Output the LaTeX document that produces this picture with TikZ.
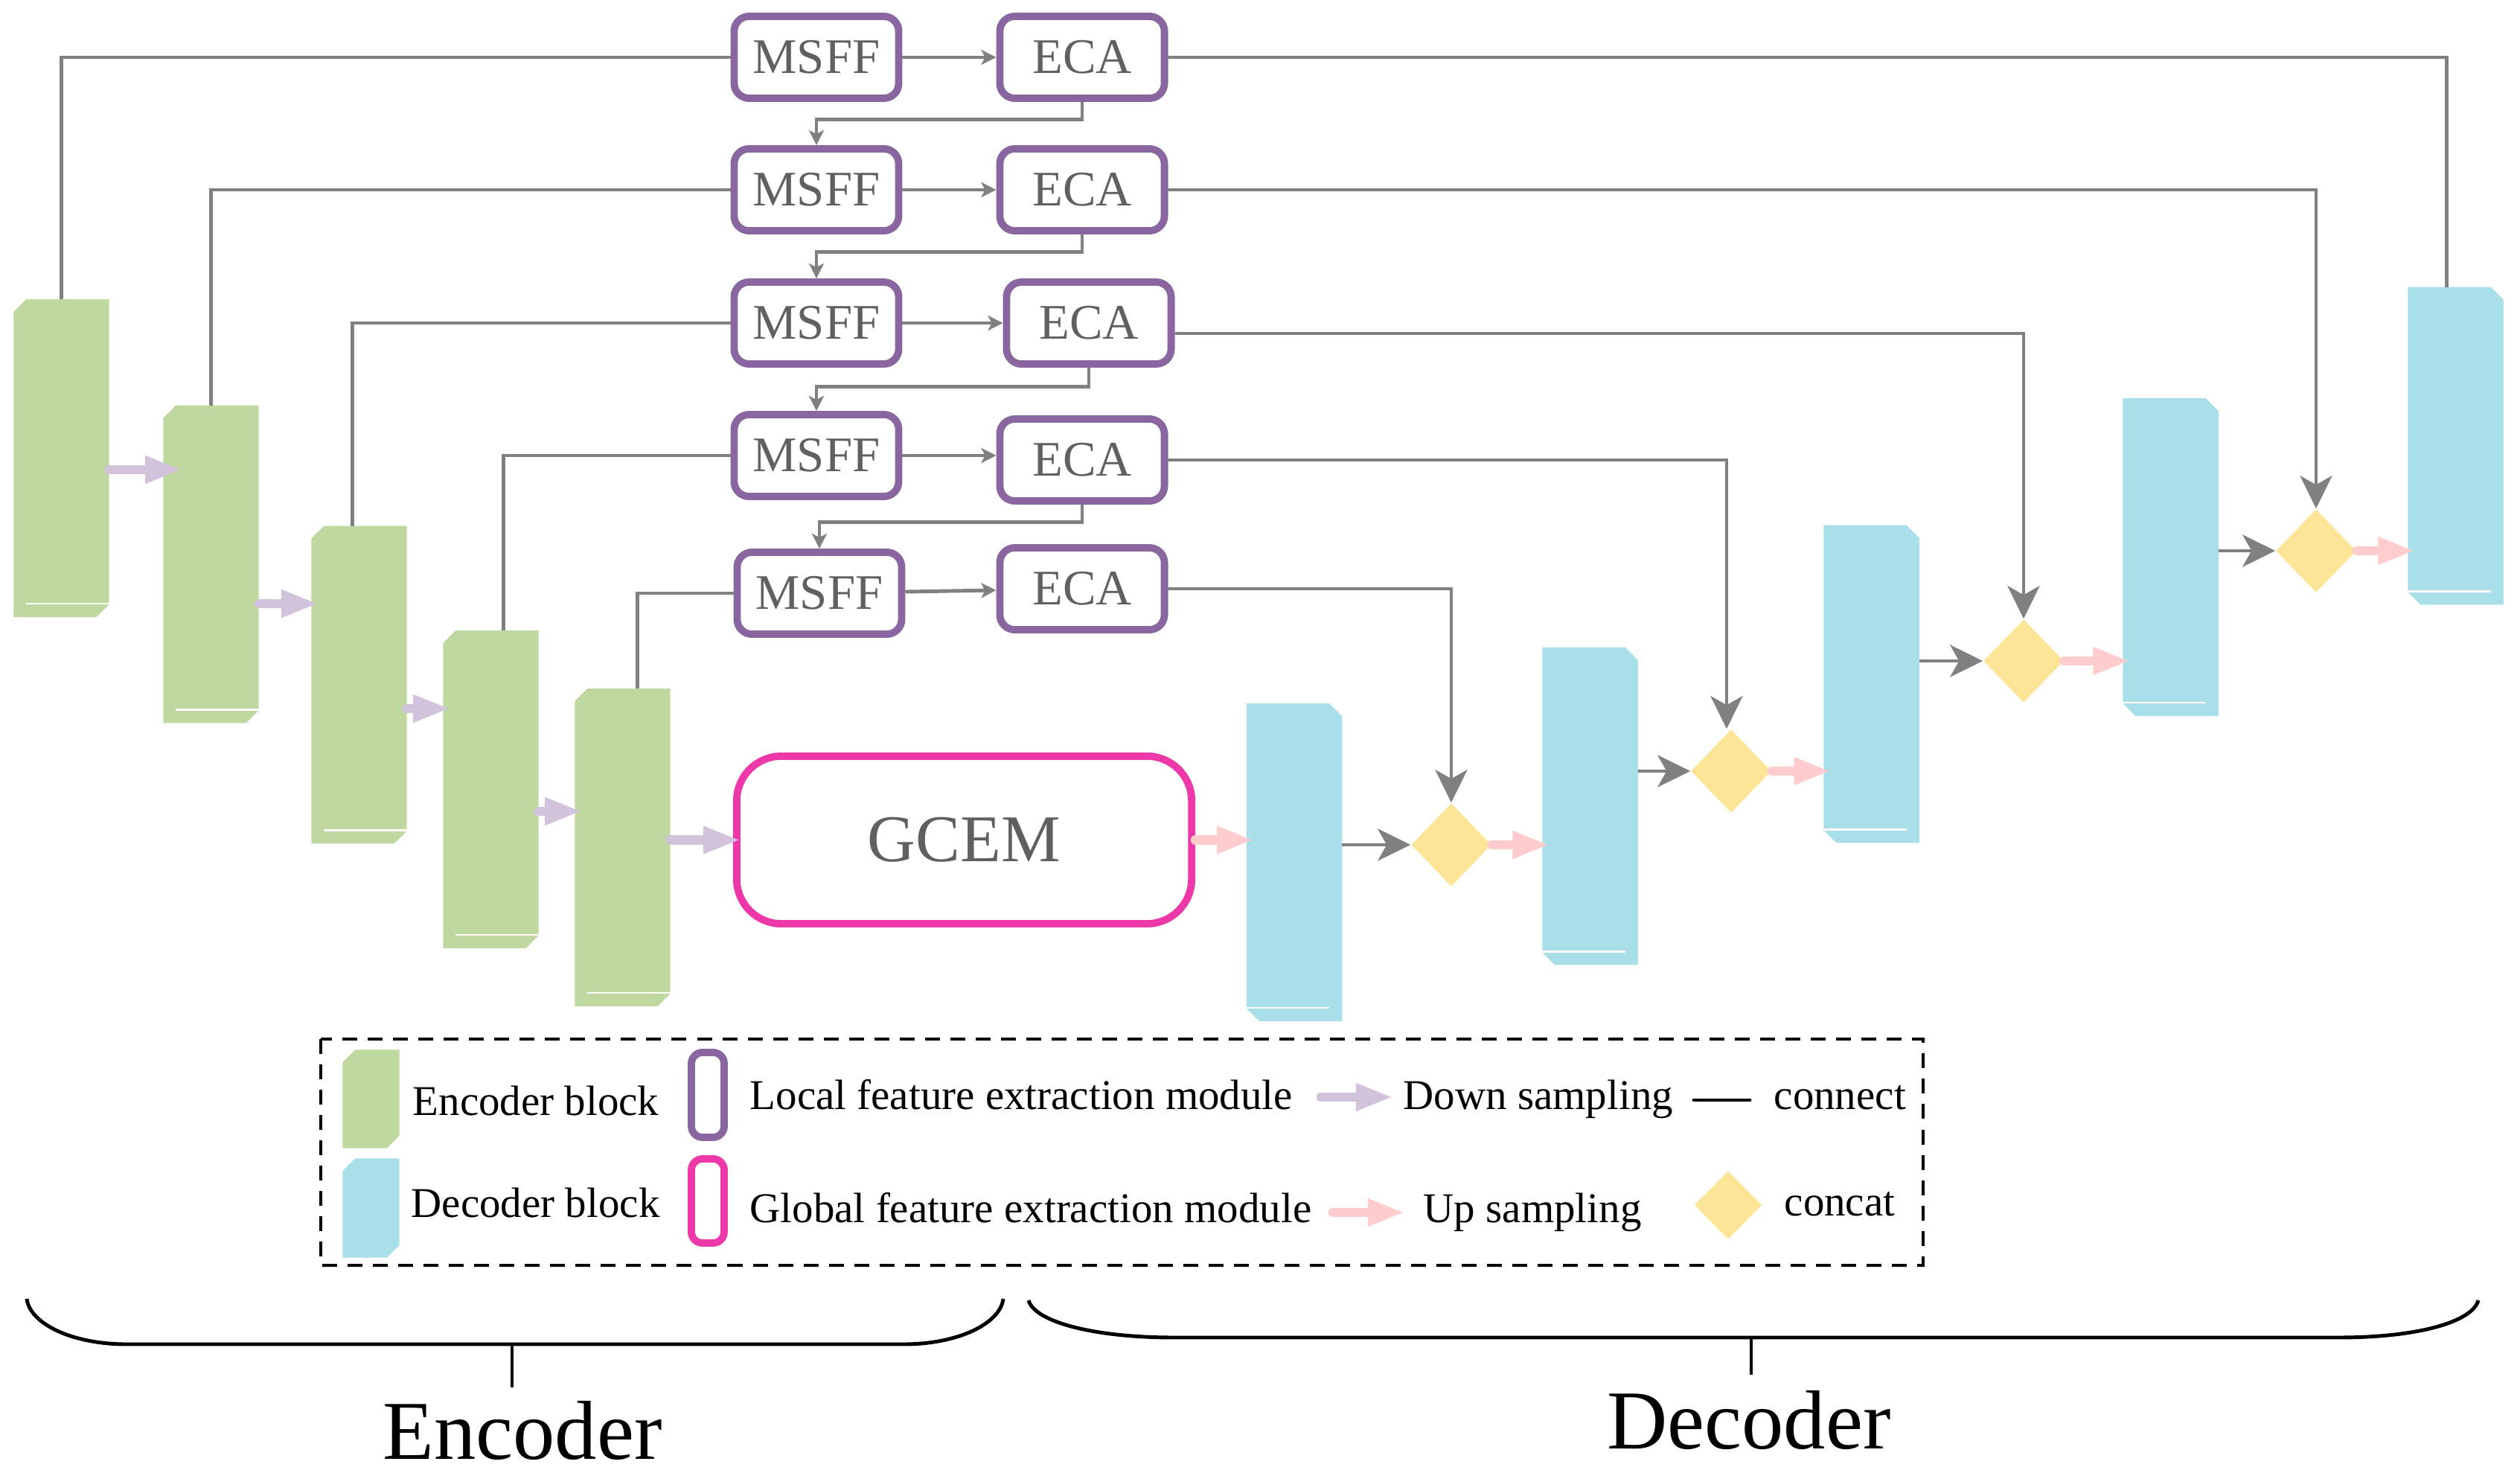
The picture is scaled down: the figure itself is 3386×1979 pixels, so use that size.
\documentclass[tikz,border=0pt]{standalone}
\usepackage{fontspec}
\setmainfont{Liberation Serif}
\usetikzlibrary{arrows.meta,shapes.geometric}

\definecolor{encgreen}{HTML}{BFD8A0}
\definecolor{deccyan}{HTML}{A8DFE8}
\definecolor{catyellow}{HTML}{FDE598}
\definecolor{lilac}{HTML}{D2C3DD}
\definecolor{uppink}{HTML}{FFCCCE}
\definecolor{localpurple}{HTML}{8A66A0}
\definecolor{globalpink}{HTML}{EC38A8}
\definecolor{linkgray}{HTML}{808080}
\definecolor{labelgray}{HTML}{606060}

\tikzset{
  blockbox/.style={rectangle, inner sep=0pt, minimum width=1.27cm, minimum height=4.25cm},
  localbox/.style={rectangle, rounded corners=0.2cm, draw=localpurple, line width=2.8pt, fill=white,
    minimum width=2.21cm, minimum height=1.1cm, inner sep=0pt, text=labelgray,
    font=\fontsize{19}{22}\selectfont},
  globalbox/.style={rectangle, rounded corners=0.6cm, draw=globalpink, line width=2.8pt, fill=white,
    minimum width=6.11cm, minimum height=2.25cm, inner sep=0pt, text=labelgray,
    font=\fontsize{25.5}{30}\selectfont},
  concat/.style={diamond, fill=catyellow, inner sep=0pt, minimum width=1.08cm, minimum height=1.12cm},
  linkline/.style={draw=linkgray, line width=1.4pt},
  skiparrow/.style={linkline, -{Stealth[length=0.2cm,width=0.2cm,inset=0.05cm]}},
  mergearrow/.style={linkline, -{Stealth[length=0.44cm,width=0.43cm,inset=0.12cm]}},
  downsamp/.style={draw=lilac, line width=3.6pt, line cap=round, shorten >=-0.1cm,
    -{Triangle[length=0.5cm,width=0.34cm]}},
  upsamp/.style={draw=uppink, line width=3.6pt, line cap=round, shorten >=-0.1cm,
    -{Triangle[length=0.5cm,width=0.34cm]}},
  seam/.style={draw=white, line width=0.7pt},
  brace/.style={line width=1.4pt},
  legendtext/.style={anchor=base west, inner sep=0pt, font=\fontsize{16.2}{19}\selectfont},
}

% block shapes: corners cut off
\newcommand{\snipNW}[2]{%
  \fill[#2] ([yshift=-0.17cm]#1.north west) -- ([xshift=0.17cm]#1.north west) -- (#1.north east)
    -- ([yshift=0.17cm]#1.south east) -- ([xshift=-0.17cm]#1.south east) -- (#1.south west) -- cycle;}
\newcommand{\snipNE}[2]{%
  \fill[#2] (#1.north west) -- ([xshift=-0.17cm]#1.north east) -- ([yshift=-0.17cm]#1.north east)
    -- (#1.south east) -- ([xshift=0.17cm]#1.south west) -- ([yshift=0.17cm]#1.south west) -- cycle;}

\begin{document}
\begin{tikzpicture}[x=0.01cm, y=-0.01cm]
  \useasboundingbox (0,0) rectangle (3386,1979);

  % encoder
  \node[blockbox] (e1) at (82.5,615.5) {};
  \node[blockbox] (e2) at (283.5,758) {};
  \node[blockbox] (e3) at (482.5,920) {};
  \node[blockbox] (e4) at (659.5,1060.5) {};
  \node[blockbox] (e5) at (836.5,1138.5) {};
  \foreach \b in {e1,e2,e3,e4,e5} {
    \snipNW{\b}{encgreen}
    \draw[seam] ([xshift=0.17cm,yshift=0.18cm]\b.south west) -- ([yshift=0.18cm]\b.south east);
  }

  % decoder
  \node[blockbox] (d1) at (1739,1158.5) {};
  \node[blockbox] (d2) at (2136.5,1083) {};
  \node[blockbox] (d3) at (2514.5,919) {};
  \node[blockbox] (d4) at (2916.5,748.5) {};
  \node[blockbox] (d5) at (3299.5,599) {};
  \foreach \b in {d1,d2,d3,d4,d5} {
    \snipNE{\b}{deccyan}
    \draw[seam] ([yshift=0.18cm]\b.south west) -- ([xshift=-0.17cm,yshift=0.18cm]\b.south east);
  }

  \node[globalbox] (gcem) at (1295.5,1128.5) {GCEM};

  \node[concat] (c1) at (1950,1135) {};
  \node[concat] (c2) at (2326,1036) {};
  \node[concat] (c3) at (2719,888) {};
  \node[concat] (c4) at (3112,740) {};

  % local modules
  \node[localbox] (m1) at (1097,77) {MSFF};
  \node[localbox] (a1) at (1454,77) {ECA};
  \node[localbox] (m2) at (1097,255) {MSFF};
  \node[localbox] (a2) at (1454,255) {ECA};
  \node[localbox] (m3) at (1097,434) {MSFF};
  \node[localbox] (a3) at (1463,434) {ECA};
  \node[localbox] (m4) at (1097,612) {MSFF};
  \node[localbox] (a4) at (1454,618) {ECA};
  \node[localbox] (m5) at (1101,797) {MSFF};
  \node[localbox] (a5) at (1454,791) {ECA};

  % encoder -> MSFF
  \draw[linkline] (e1.north) |- (m1.west);
  \draw[linkline] (e2.north) |- (m2.west);
  \draw[linkline] ([xshift=-0.09cm]e3.north) |- (m3.west);
  \draw[linkline] ([xshift=0.17cm]e4.north) |- (m4.west);
  \draw[linkline] ([xshift=0.2cm]e5.north) |- (m5.west);

  % MSFF -> ECA -> next MSFF
  \draw[skiparrow] (m1) -- (a1);
  \draw[skiparrow] (m2) -- (a2);
  \draw[skiparrow] (m3) -- (a3);
  \draw[skiparrow] (m4.east) -- (m4.east -| a4.west);
  \draw[skiparrow] (m5) -- (a5);
  \draw[skiparrow] (a1.south) -- ++(0,24) -| (m2.north);
  \draw[skiparrow] (a2.south) -- ++(0,24) -| (m3.north);
  \draw[skiparrow] (a3.south) -- ++(0,26) -| (m4.north);
  \draw[skiparrow] (a4.south) -- ++(0,24) -| (m5.north);

  % ECA -> decoder side
  \draw[linkline] (a1.east) -| ([xshift=-0.12cm]d5.north);
  \draw[mergearrow] (a2.east) -| (c4.north);
  \draw[mergearrow] ([yshift=-0.14cm]a3.east) -| (c3.north);
  \draw[mergearrow] (a4.east) -| ([xshift=-0.06cm]c2.north);
  \draw[mergearrow] (a5.east) -| (c1.north);

  % down sampling
  \draw[downsamp, shorten >=-0.26cm] (e1.east |- 0,631) -- (e2.west |- 0,631);
  \draw[downsamp] (e2.east |- 0,811) -- (e3.west |- 0,811);
  \draw[downsamp] (e3.east |- 0,952) -- (e4.west |- 0,952);
  \draw[downsamp] (e4.east |- 0,1090) -- (e5.west |- 0,1090);
  \draw[downsamp] (e5.east |- gcem.west) -- (gcem.west);

  % decoder path
  \draw[upsamp] (gcem.east) -- (gcem.east -| d1.west);
  \draw[mergearrow] (d1.east |- c1.west) -- (c1.west);
  \draw[upsamp] (c1.east) -- (c1.east -| d2.west);
  \draw[mergearrow] (d2.east |- c2.west) -- (c2.west);
  \draw[upsamp] (c2.east) -- (c2.east -| d3.west);
  \draw[mergearrow] (d3.east |- c3.west) -- (c3.west);
  \draw[upsamp] (c3.east) -- (c3.east -| d4.west);
  \draw[mergearrow] (d4.east |- c4.west) -- (c4.west);
  \draw[upsamp] (c4.east) -- (c4.east -| d5.west);

  % legend
  \draw[line width=1pt, dash pattern=on 0.2cm off 0.14cm] (431,1396) rectangle (2584,1700);
  \node[blockbox, minimum width=0.75cm, minimum height=1.31cm] (lgenc) at (498.5,1476.5) {};
  \snipNW{lgenc}{encgreen}
  \node[blockbox, minimum width=0.75cm, minimum height=1.32cm] (lgdec) at (498.5,1623) {};
  \snipNW{lgdec}{deccyan}
  \node[localbox, minimum width=0.44cm, minimum height=1.14cm, rounded corners=0.15cm] (lglocal) at (951,1471) {};
  \node[globalbox, minimum width=0.44cm, minimum height=1.13cm, rounded corners=0.15cm] (lgglobal) at (951,1613.5) {};
  \coordinate (lgdowns) at (1775,1474);
  \coordinate (lgdowne) at (1872,1474);
  \coordinate (lgups) at (1791,1629);
  \coordinate (lgupe) at (1888,1629);
  \coordinate (lglinks) at (2276,1478);
  \coordinate (lglinke) at (2351,1478);
  \draw[downsamp, shorten >=0pt] (lgdowns) -- (lgdowne);
  \draw[upsamp, shorten >=0pt] (lgups) -- (lgupe);
  \draw[line width=1.4pt, line cap=round] (lglinks) -- (lglinke);
  \node[concat, minimum width=0.91cm, minimum height=0.92cm] (lgcat) at (2322,1619) {};
  \node[legendtext] (lgenctext) at (554,1498) {Encoder block};
  \node[legendtext] (lgdectext) at (552,1635) {Decoder block};
  \node[legendtext] (lglocaltext) at (1007,1490) {Local feature extraction module};
  \node[legendtext] (lgglobaltext) at (1007,1642) {Global feature extraction module};
  \node[legendtext] (lgdowntext) at (1885,1490) {Down sampling};
  \node[legendtext] (lguptext) at (1912,1642) {Up sampling};
  \node[legendtext] (lglinktext) at (2383,1490) {connect};
  \node[legendtext] (lgcattext) at (2397,1633) {concat};

  % braces
  \draw[brace] (36,1745) .. controls (40,1778) and (96,1806) .. (170,1806) -- (1214,1806)
    .. controls (1288,1806) and (1344,1778) .. (1348,1745);
  \draw[line width=0.9pt] (688,1806) -- (688,1864);
  \draw[brace] (1382,1747) .. controls (1390,1776) and (1470,1797) .. (1577,1797) -- (3142,1797)
    .. controls (3249,1797) and (3322,1776) .. (3330,1747);
  \draw[line width=0.9pt] (2353,1797) -- (2353,1847);
  \node[anchor=base, inner sep=0pt, font=\fontsize{32}{36}\selectfont] (enclabel) at (702,1960) {Encoder};
  \node[anchor=base, inner sep=0pt, font=\fontsize{32}{36}\selectfont] (declabel) at (2350,1946) {Decoder};
\end{tikzpicture}
\end{document}
